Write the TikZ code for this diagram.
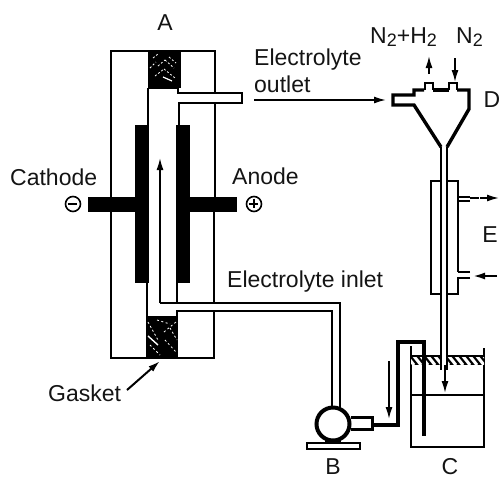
\documentclass[tikz,border=0pt]{standalone}
\usepackage{fontspec}
\setmainfont{Liberation Sans}
\usetikzlibrary{arrows.meta}
\newcommand{\subtwo}{\raisebox{-3.5pt}{\fontsize{18}{18}\selectfont 2}}
\tikzset{
  x=1pt,y=-1pt,
  lbl/.style={inner sep=0pt,font=\fontsize{23}{25}\selectfont,text=black!92},
  wall/.style={line width=2pt,line join=miter},
  thin wall/.style={line width=1.6pt},
  heavy/.style={line width=3.4pt,line join=miter},
  pipeheavy/.style={line width=4.5pt,line join=miter},
  flow/.style={line width=1.6pt,-{Latex[length=12pt,width=7pt]}},
  sign/.style={circle,draw,line width=1.6pt,minimum size=15pt,inner sep=0pt}
}
\begin{document}
\begin{tikzpicture}
\useasboundingbox (0,0) rectangle (502,480);
% named free ends
\coordinate (outFrom) at (254,100); \coordinate (outTo) at (386,100);
\coordinate (cellA) at (160,303); \coordinate (cellB) at (160,158);
\coordinate (gaskFrom) at (127,390); \coordinate (gaskTo) at (160,361);
\coordinate (h2From) at (429,74); \coordinate (h2To) at (429,56);
\coordinate (n2From) at (455,58); \coordinate (n2To) at (455,82);
\coordinate (eOutFrom) at (470,198); \coordinate (eOutTo) at (499,198);
\coordinate (eInFrom) at (497,276); \coordinate (eInTo) at (473,276);
\coordinate (retFrom) at (389,361); \coordinate (retTo) at (389,419);
\coordinate (tankFrom) at (445,365); \coordinate (tankTo) at (445,393);
% cell body
\draw[wall] (111,197) -- (111,51) -- (215,51) -- (215,93);
\draw[wall] (215,103) -- (215,197);
\draw[wall] (111,212) -- (111,358) -- (214,358) -- (214,311);
\draw[wall] (214,303) -- (214,212);
% top gasket
\fill[black] (148,51) rectangle (181,88);
\foreach \a/\b/\c/\d in {155/76/164/69,164/69/175/78,158/66/165/60,165/60/174/68,150/68/156/62,169/57/176/63,153/58/158/54}
  \draw[white,line width=.8pt,dash pattern=on 2pt off 2pt] (\a,\b) -- (\c,\d);
\draw[white,line width=1.2pt] (163,77) -- (172,81);
% channel upper walls and outlet
\draw[wall] (148,88) -- (148,126);
\draw[wall] (148,88) -- (178,88) -- (178,93) -- (242,93) -- (242,103) -- (179,103) -- (179,126);
% electrodes
\fill[black] (135,125) rectangle (149,283);
\fill[black] (176,125) rectangle (190,283);
\fill[black] (88,197) rectangle (135,212);
\fill[black] (190,197) rectangle (237,212);
% lower channel and inlet
\draw[wall] (147,283) -- (147,316);
\draw[wall] (177,283) -- (177,303);
\draw[wall] (177,316) -- (177,311) -- (332,311) -- (332,408);
\draw[wall] (177,303) -- (340,303) -- (340,408);
% bottom gasket
\fill[black] (146,316) rectangle (178,358);
\foreach \a/\b/\c/\d in {148/322/158/340,157/320/170/324,164/332/176/322,150/345/160/355,165/340/176/352,170/328/177/340}
  \draw[white,line width=.8pt,dash pattern=on 2pt off 2.5pt] (\a,\b) -- (\c,\d);
\draw[white,line width=1.4pt] (148,336) -- (158,345);
% inner flow
\draw[flow] (cellA) -- (cellB);
\draw[line width=2pt] (cellA) -- (195,303);
% pump
\node[circle,draw,line width=4pt,fill=white,minimum size=33pt,inner sep=0pt] (pump) at (333,424) {};
\draw[line width=3pt,line join=miter] (351,417) -- (372,417) -- (372,429) -- (351,429);
\fill[black] (325,440) rectangle (341,445);
\draw[line width=2.4pt,fill=white] (307,443) rectangle (360,449);
% thick return pipe
\draw[pipeheavy] (373,425) -- (398,425) -- (398,342) -- (424,342) -- (424,436);
% tank
\draw[wall] (411,346) -- (411,447) -- (484,447) -- (484,348);
\draw[thin wall] (411,395) -- (484,395);
\fill[black] (411,355) rectangle (484,365);
\begin{scope}
\clip (411,357) rectangle (484,364);
\foreach \i in {406,413,...,484}
  \draw[white,line width=3pt] (\i,355) -- (\i+8,365);
\end{scope}
\fill[black] (422,355) rectangle (426,365);
% descending pipe
\fill[white] (442,340) rectangle (447,370);
\draw[wall] (441,147) -- (441,370);
\draw[wall] (447,147) -- (447,370);
\draw[flow] (tankFrom) -- (tankTo);
% separator D
\draw[heavy] (424,90) -- (414,90) -- (414,95) -- (393,95) -- (393,105) -- (414,105) -- (441,147);
\draw[heavy] (433,90) -- (449,90);
\draw[heavy] (457,90) -- (469,90) -- (469,109) -- (447,147);
\draw[line width=2.2pt] (425,90) -- (425,83) -- (433,83) -- (433,90);
\draw[line width=2.2pt] (449,90) -- (449,83) -- (457,83) -- (457,90);
% jacket E
\draw[line width=2.8pt] (441,181) -- (431,181) -- (431,294) -- (441,294);
\draw[line width=2.8pt] (447,181) -- (458,181) -- (458,197) -- (470,197);
\draw[line width=2pt] (458,197) -- (458,272);
\draw[line width=2.4pt] (470,272) -- (458,272);
\draw[line width=2.4pt] (470,278) -- (458,278) -- (458,294) -- (447,294);
\draw[line width=2pt] (458,201) -- (470,201);
% other arrows
\draw[flow] (outFrom) -- (outTo);
\draw[flow,line width=2pt] (gaskFrom) -- (gaskTo);
\draw[flow] (h2From) -- (h2To);
\draw[flow] (n2From) -- (n2To);
\draw[flow,dash pattern=on 9pt off 1pt] (eOutFrom) -- (eOutTo);
\draw[flow,line width=2pt] (eInFrom) -- (eInTo);
\draw[flow] (retFrom) -- (retTo);
% labels
\node[lbl] (la) at (165,23) {A};
\node[lbl,anchor=west] (lout1) at (254,60) {Electrolyte};
\node[lbl,anchor=west] (lout2) at (254,84) {outlet};
\node[lbl,anchor=west] (lcath) at (10,177) {Cathode};
\node[lbl,anchor=west] (lan) at (232,176) {Anode};
\node[lbl,anchor=west] (lin) at (227,282) {Electrolyte inlet};
\node[lbl,anchor=west] (lgas) at (48,393) {Gasket};
\node[lbl,anchor=west] (ln2h2) at (370,37) {N\subtwo{}+H\subtwo};
\node[lbl,anchor=west] (ln2) at (456,37) {N\subtwo};
\node[lbl] (ld) at (492,100) {D};
\node[lbl] (le) at (490,235) {E};
\node[lbl] (lb) at (333,467) {B};
\node[lbl] (lc) at (450,467) {C};
\node[sign] (minus) at (73,204) {};
\draw[line width=1.6pt] (minus.west) ++(3,0) -- ++(9,0);
\node[sign] (plus) at (254,204) {};
\draw[line width=1.6pt] (plus.west) ++(3,0) -- ++(9,0);
\draw[line width=1.6pt] (plus.north) ++(0,3) -- ++(0,9);
\end{tikzpicture}
\end{document}
